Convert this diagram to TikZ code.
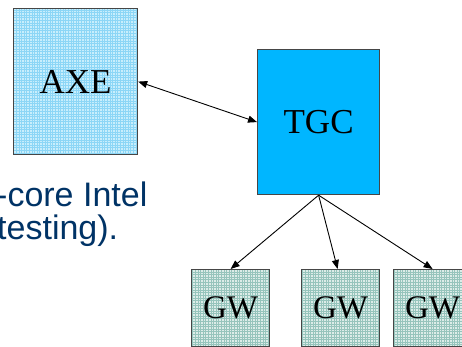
\documentclass[tikz,border=0pt]{standalone}
\usepackage{fontspec}
\setmainfont{Liberation Serif}
\newfontfamily\labelsans{Liberation Sans}
\usetikzlibrary{arrows.meta}

\definecolor{axefill}{RGB}{200,238,252}
\definecolor{axegrid}{RGB}{140,214,246}
\definecolor{gwfill}{RGB}{220,236,232}
\definecolor{gwgrid}{RGB}{150,196,188}
\definecolor{tgcfill}{RGB}{0,182,255}
\definecolor{boxedge}{RGB}{70,70,70}
\definecolor{navytext}{RGB}{0,51,102}

\tikzset{
  box/.style={draw=boxedge, line width=1.2pt, inner sep=0pt, anchor=north west},
  hatched/.style 2 args={fill=#1, path picture={
      \draw[#2, line width=0.6pt, step=2.6pt]
        (path picture bounding box.south west) grid (path picture bounding box.north east);}},
  link/.style={line width=0.9pt, -{Triangle[length=9pt,width=7pt]}},
  biglabel/.style={font=\fontsize{35}{40}\selectfont},
  gwlabel/.style={font=\fontsize{33}{38}\selectfont},
  note/.style={font=\labelsans\fontsize{34}{35}\selectfont, text=navytext, anchor=base west, inner sep=0pt}
}

\begin{document}
\begin{tikzpicture}[x=1pt, y=-1pt]
  \clip (0,0) rectangle (462,347);
  \fill[white] (0,0) rectangle (462,347);

  % main blocks
  \node[box, hatched={axefill}{axegrid}, minimum width=124pt, minimum height=146pt, biglabel] (axe) at (13,8) {AXE};
  \node[box, fill=tgcfill, minimum width=122pt, minimum height=145pt, biglabel] (tgc) at (257,49) {TGC};

  % gateways
  \node[box, hatched={gwfill}{gwgrid}, minimum width=78pt, minimum height=77pt, gwlabel] (gw1) at (191,269) {GW};
  \node[box, hatched={gwfill}{gwgrid}, minimum width=78pt, minimum height=77pt, gwlabel] (gw2) at (301,269) {GW};
  \node[box, hatched={gwfill}{gwgrid}, minimum width=78pt, minimum height=77pt, gwlabel] (gw3) at (393,269) {GW};

  % connections
  \draw[link, {Triangle[length=9pt,width=7pt]}-{Triangle[length=9pt,width=7pt]}] (axe.east) -- (tgc.west);
  \draw[link] (tgc.south) -- (gw1.north);
  \draw[link] (tgc.south) -- ([xshift=-3pt]gw2.north);
  \draw[link] (tgc.south) -- (gw3.north);

  % caption text
  \node[note] (line1) at (-4,206) {-core Intel};
  \node[note] (line2) at (-3,239) {testing).};
\end{tikzpicture}
\end{document}
